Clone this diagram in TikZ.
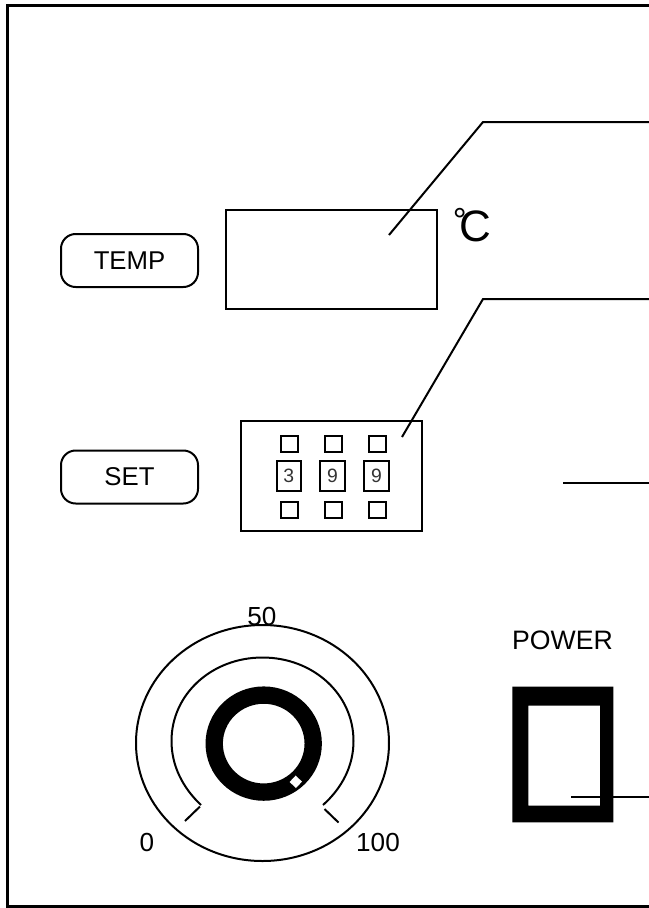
\documentclass[tikz,border=0pt]{standalone}
\usepackage{fontspec}
\setmainfont{Liberation Sans}
\tikzset{
  pxbox/.style={draw=black,line width=1.5pt,inner sep=0pt,fill=white},
  key/.style={pxbox,rounded corners=11pt,minimum width=137*0.75pt,minimum height=53*0.75pt,font=\fontsize{19.3}{19}\selectfont},
  tiny box/.style={pxbox,minimum width=17*0.75pt,minimum height=16*0.75pt},
  digit/.style={pxbox,minimum width=24.5*0.75pt,minimum height=30.5*0.75pt,font=\fontsize{14.5}{15}\selectfont,text=black!80},
  lab/.style={inner sep=0pt,font=\fontsize{19.6}{20}\selectfont},
  leader/.style={draw=black,line width=1.5pt},
}
\begin{document}
\begin{tikzpicture}[x=0.75pt,y=-0.75pt]
\useasboundingbox (0,0) rectangle (649,908);
\fill[white] (0,0) rectangle (649,908);
% outer frame, open on the right
\draw[line width=2.2pt] (649,5.5) -- (7.5,5.5) -- (7.5,906.5) -- (649,906.5);

\node[key] (temp) at (129.5,260.5) {TEMP};
\node[key] (set) at (129.5,477) {SET};
\node[pxbox,minimum width=211*0.75pt,minimum height=99*0.75pt] (display) at (331.5,259.5) {};
\node[inner sep=0pt,anchor=center,font=\fontsize{33}{33}\selectfont] (unit) at (472,225) {\raisebox{6.5pt}{\fontsize{26}{26}\selectfont °}\kern-5.4pt C};

% set panel
\node[pxbox,minimum width=180.5*0.75pt,minimum height=109.5*0.75pt] (panel) at (331.5,476) {};
\foreach \n/\x/\xd/\d in {a/289.8/288.8/3,b/333.5/332.5/9,c/377.5/376.5/9}{
  \node[tiny box] (up\n) at (\x,443.7) {};
  \node[digit] (d\n) at (\xd,475.8) {\d};
  \node[tiny box] (dn\n) at (\x,509.5) {};
}

% leaders
\coordinate (l1a) at (389,235);
\coordinate (l1b) at (483,122);
\coordinate (l1c) at (649,122);
\draw[leader] (l1a) -- (l1b) -- (l1c);
\coordinate (l2a) at (402,437);
\coordinate (l2b) at (483,299);
\coordinate (l2c) at (649,299);
\draw[leader] (l2a) -- (l2b) -- (l2c);
\coordinate (l3a) at (563,483);
\coordinate (l3b) at (649,483);
\draw[leader] (l3a) -- (l3b);

% dial
\coordinate (dial) at (262.5,743);
\draw[line width=1.5pt] (dial) ellipse [x radius=126.5,y radius=118];
\draw[line width=1.5pt] (201,805) .. controls (183,788) and (171.5,766) .. (171.5,741)
  .. controls (171.5,694) and (212,657.5) .. (262.5,657.5)
  .. controls (313,657.5) and (353.5,694) .. (353.5,741)
  .. controls (353.5,766) and (342,788) .. (323,805);
\draw[line width=1.5pt] (200,806.5) -- (185,821);
\draw[line width=1.5pt] (324.5,809) -- (338.5,822.5);
\draw[line width=13pt] (263.7,743.6) ellipse [x radius=49.5,y radius=48.5];
\fill[white] (295.6,775.6) -- (302,781.6) -- (296,788) -- (289.6,782) -- cycle;
\node[lab] (l50) at (262,616) {50};
\node[lab] (l0) at (147,842) {0};
\node[lab] (l100) at (378,842) {100};

% power switch
\node[lab,font=\fontsize{20}{20}\selectfont] (power) at (562.5,640) {POWER};
\fill[black,even odd rule] (512.3,686.7) rectangle (613.3,822.3) (528.3,705.7) rectangle (600,805.7);
\coordinate (l4a) at (571,796.5);
\coordinate (l4b) at (649,796.5);
\draw[leader] (l4a) -- (l4b);
\end{tikzpicture}
\end{document}
